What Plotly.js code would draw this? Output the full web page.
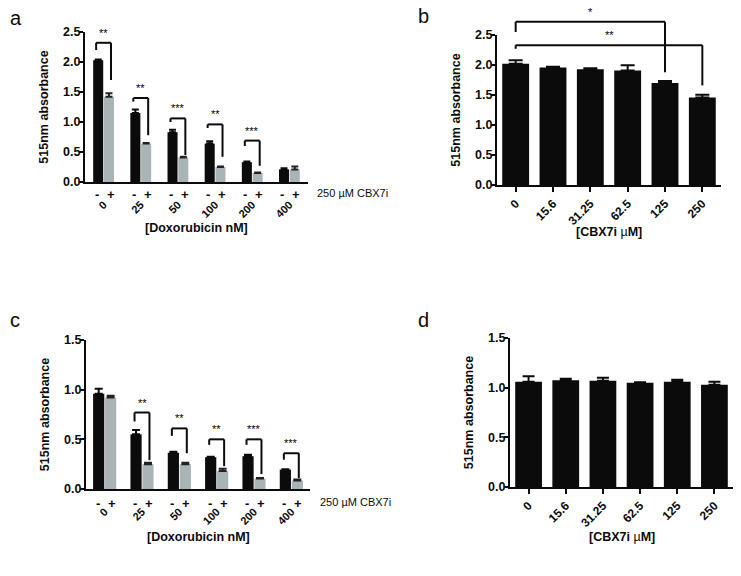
<!DOCTYPE html>
<html>
<head>
<meta charset="utf-8">
<script src="https://cdn.plot.ly/plotly-3.0.1.min.js"></script>
<style>body{margin:0;background:#fff;} #chart{width:741px;height:576px;}</style>
</head>
<body>
<div id="chart"></div>
<script>
CHART = document.getElementById('chart');

// categories
var doxLabels = ['0', '25', '50', '100', '200', '400'];
var cbxLabels = ['0', '15.6', '31.25', '62.5', '125', '250'];

// panel a: absorbance without (-) and with (+) 250 uM CBX7i
var aMinus    = [2.03, 1.15, 0.83, 0.64, 0.33, 0.21];
var aMinusErr = [0.01, 0.06, 0.04, 0.04, 0.01, 0.02];
var aPlus     = [1.42, 0.64, 0.41, 0.25, 0.15, 0.21];
var aPlusErr  = [0.06, 0.01, 0.01, 0.01, 0.01, 0.05];
// significance brackets a (group, stars, leg heights)
var aSigGroup = [0, 1, 2, 3, 4];
var aSigStars = ['**', '**', '***', '**', '***'];
var aSigLeft  = [2.20, 1.34, 1.00, 0.90, 0.60];
var aSigTop   = [2.32, 1.40, 1.06, 0.96, 0.69];
var aSigRight = [1.70, 0.78, 0.45, 0.42, 0.27];

// panel b: CBX7i alone
var bVals = [2.02, 1.96, 1.93, 1.91, 1.70, 1.46];
var bErr  = [0.06, 0.01, 0.015, 0.085, 0.035, 0.045];
var bSigFrom  = [0, 0];
var bSigTo    = [4, 5];
var bSigStars = ['*', '**'];
var bSigLeft  = [2.55, 2.27];
var bSigTop   = [2.72, 2.33];
var bSigRight = [1.88, 1.66];

// panel c
var cMinus    = [0.96, 0.55, 0.365, 0.32, 0.33, 0.195];
var cMinusErr = [0.05, 0.045, 0.01, 0.005, 0.015, 0.005];
var cPlus     = [0.92, 0.25, 0.25, 0.18, 0.105, 0.085];
var cPlusErr  = [0.02, 0.015, 0.015, 0.025, 0.005, 0.01];
var cSigGroup = [1, 2, 3, 4, 5];
var cSigStars = ['**', '**', '**', '***', '***'];
var cSigLeft  = [0.68, 0.535, 0.445, 0.445, 0.295];
var cSigTop   = [0.77, 0.61, 0.50, 0.50, 0.36];
var cSigRight = [0.29, 0.36, 0.23, 0.15, 0.11];

// panel d
var dVals = [1.06, 1.075, 1.07, 1.05, 1.06, 1.03];
var dErr  = [0.055, 0.015, 0.03, 0.005, 0.02, 0.03];

var FONT = 'Liberation Sans, Arial, sans-serif';
var BLACK = '#0b0b0b';
var GREY = '#a9b4b7';
var idx = doxLabels.map(function(d, i) { return i; });
var zeros = idx.map(function() { return 0; });

function barTrace(xa, ya, y, err, color, errColor, offset, width, cap) {
    return {
        type: 'bar', x: idx, y: y, xaxis: xa, yaxis: ya,
        offset: offset, width: width,
        marker: {color: color, line: {width: 0}},
        error_y: {type: 'data', array: err, arrayminus: zeros, symmetric: false,
                  color: errColor, thickness: 2, width: cap},
        showlegend: false, hoverinfo: 'skip'
    };
}

var data = [
    barTrace('x', 'y', aMinus, aMinusErr, BLACK, BLACK, -0.28, 0.27, 3.5),
    barTrace('x', 'y', aPlus, aPlusErr, GREY, '#222', 0.01, 0.27, 3.5),
    barTrace('x2', 'y2', bVals, bErr, BLACK, BLACK, -0.36, 0.72, 7),
    barTrace('x3', 'y3', cMinus, cMinusErr, BLACK, BLACK, -0.31, 0.30, 4),
    barTrace('x3', 'y3', cPlus, cPlusErr, GREY, '#222', 0.01, 0.30, 4),
    barTrace('x4', 'y4', dVals, dErr, BLACK, BLACK, -0.36, 0.72, 6)
];

var shapes = [];
var annotations = [];

function line(xa, ya, ymax, x0, y0, x1, y1) {
    shapes.push({type: 'line', xref: xa, yref: ya + ' domain',
        x0: x0, x1: x1, y0: y0 / ymax, y1: y1 / ymax,
        line: {color: BLACK, width: 2}});
}

function bracket(xa, ya, ymax, x0, x1, yl, yt, yr, stars) {
    line(xa, ya, ymax, x0, yl, x0, yt);
    line(xa, ya, ymax, x0, yt, x1, yt);
    line(xa, ya, ymax, x1, yt, x1, yr);
    annotations.push({xref: xa, yref: ya + ' domain', x: (x0 + x1) / 2, y: yt / ymax,
        yanchor: 'bottom', yshift: 2, text: stars, showarrow: false,
        font: {family: FONT, size: 11, color: '#000'}});
}

aSigGroup.forEach(function(g, i) {
    bracket('x', 'y', 2.5, g - 0.2, g + 0.2, aSigLeft[i], aSigTop[i], aSigRight[i], aSigStars[i]);
});
bSigFrom.forEach(function(g, i) {
    bracket('x2', 'y2', 2.5, g, bSigTo[i], bSigLeft[i], bSigTop[i], bSigRight[i], bSigStars[i]);
});
cSigGroup.forEach(function(g, i) {
    bracket('x3', 'y3', 1.5, g - 0.2, g + 0.2, cSigLeft[i], cSigTop[i], cSigRight[i], cSigStars[i]);
});

// - / + under each pair of bars
[['x', 'y', 315, -3], ['x3', 'y3', 318, -5]].forEach(function(p) {
    idx.forEach(function(i) {
        annotations.push({xref: p[0], yref: p[1] + ' domain', x: i - 0.19, y: 0, yanchor: 'top',
            yshift: p[3], text: '-', showarrow: false, font: {family: FONT, size: 13, weight: 'bold', color: BLACK}});
        annotations.push({xref: p[0], yref: p[1] + ' domain', x: i + 0.19, y: 0, yanchor: 'top',
            yshift: p[3], text: '+', showarrow: false, font: {family: FONT, size: 13, weight: 'bold', color: BLACK}});
    });
    annotations.push({xref: 'paper', yref: p[1] + ' domain', x: p[2] / 741, y: 0, xanchor: 'left',
        yanchor: 'middle', yshift: p[3] - 8, text: '250 \u00b5M CBX7i', showarrow: false,
        font: {family: FONT, size: 11, color: BLACK}});
});

// x axis titles, placed under the rotated tick labels
var cbxTitle = '[CBX7i <span style="font-weight:normal">\u00b5</span>M]';
[['x', 'y', '[Doxorubicin nM]', -46], ['x2', 'y2', cbxTitle, -47],
 ['x3', 'y3', '[Doxorubicin nM]', -48], ['x4', 'y4', cbxTitle, -50]].forEach(function(p) {
    annotations.push({xref: p[0] + ' domain', yref: p[1] + ' domain', x: 0.5, y: 0,
        yanchor: 'middle', yshift: p[3], text: p[2], showarrow: false,
        font: {family: FONT, size: 12.5, weight: 'bold', color: BLACK}});
});

// panel letters
[['a', 8, 18], ['b', 416, 16], ['c', 8, 320], ['d', 416, 320]].forEach(function(p) {
    annotations.push({xref: 'paper', yref: 'paper', x: p[1] / 741, y: 1 - p[2] / 576,
        xanchor: 'left', yanchor: 'middle', text: p[0], showarrow: false,
        font: {family: FONT, size: 20, color: BLACK}});
});

function yAxis(dom, ymax, anchor) {
    return {
        domain: dom, anchor: anchor, range: [0, ymax], dtick: 0.5, tick0: 0, tickformat: '.1f',
        showline: true, linewidth: 2, linecolor: BLACK, ticks: 'outside', ticklen: 4, tickwidth: 2,
        tickcolor: BLACK, showgrid: false, zeroline: false, ticklabelstandoff: -4,
        tickfont: {family: FONT, size: 12.5, weight: 'bold', color: BLACK},
        title: {text: '515nm absorbance', standoff: 12,
                font: {family: FONT, size: 12.5, weight: 'bold', color: BLACK}}
    };
}

function xAxis(dom, labels, anchor, pm) {
    return {
        domain: dom, anchor: anchor, range: [-0.5, 5.5],
        tickvals: idx, ticktext: labels, tickangle: -45,
        ticks: pm ? '' : 'outside', ticklen: 5, tickwidth: 2, tickcolor: BLACK,
        ticklabelstandoff: pm ? 10 : 0,
        showline: true, linewidth: 2, linecolor: BLACK, showgrid: false, zeroline: false,
        tickfont: {family: FONT, size: pm ? 11 : 12, weight: 'bold', color: BLACK}
    };
}

var layout = {
    width: 741, height: 576,
    margin: {l: 0, r: 0, t: 0, b: 0},
    paper_bgcolor: '#fff', plot_bgcolor: '#fff',
    barmode: 'overlay',
    showlegend: false,
    xaxis:  xAxis([85 / 741, 308 / 741], doxLabels, 'y', true),
    yaxis:  yAxis([1 - 182 / 576, 1 - 32 / 576], 2.5, 'x'),
    xaxis2: xAxis([497 / 741, 721 / 741], cbxLabels, 'y2', false),
    yaxis2: yAxis([1 - 185 / 576, 1 - 35 / 576], 2.5, 'x2'),
    xaxis3: xAxis([86 / 741, 310 / 741], doxLabels, 'y3', true),
    yaxis3: yAxis([1 - 489 / 576, 1 - 340 / 576], 1.5, 'x3'),
    xaxis4: xAxis([510 / 741, 733 / 741], cbxLabels, 'y4', false),
    yaxis4: yAxis([1 - 487 / 576, 1 - 338 / 576], 1.5, 'x4'),
    shapes: shapes,
    annotations: annotations
};

Plotly.newPlot(CHART, data, layout, {staticPlot: true});
</script>
</body>
</html>
